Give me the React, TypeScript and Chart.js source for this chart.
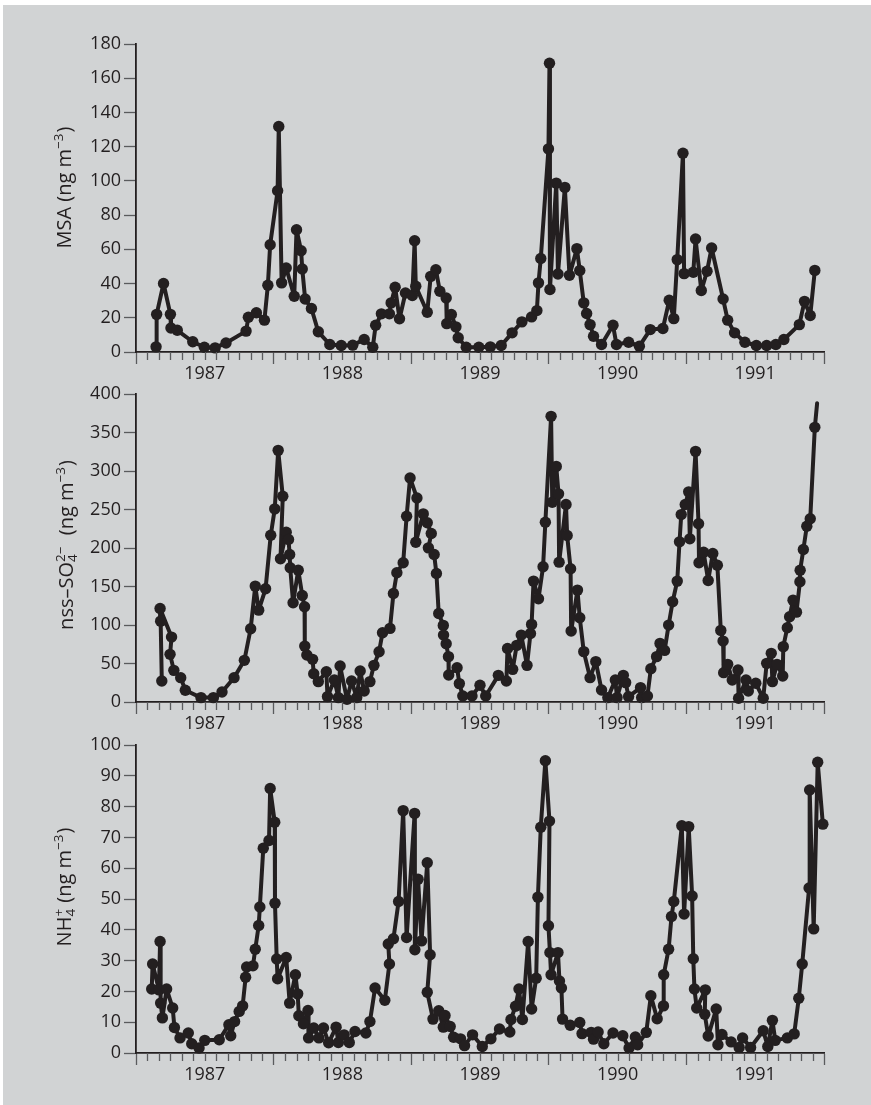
import React, { useEffect, useRef } from "react";
import { Chart, registerables } from "chart.js";

Chart.register(...registerables);

// ---------- data ----------
const yearLabels = ["1987", "1988", "1989", "1990", "1991"];

// months counted from 1 Jan 1987
const msaMonths = [1.75,1.8,2.4,3.0,3.05,3.6,4.95,5.96,6.9,7.85,9.6,9.8,10.5,11.2,11.5,11.7,12.35,12.45,12.7,13.1,13.8,14.0,14.4,14.5,14.75,15.3,15.9,16.9,17.9,18.9,19.9,20.65,20.9,21.4,22.1,22.25,22.6,22.98,23.5,24.1,24.3,24.4,25.4,25.7,26.15,26.5,27.05,27.1,27.5,27.9,28.1,28.8,29.9,30.9,31.85,32.8,33.65,34.5,34.96,35.1,35.3,35.97,36.06,36.1,36.65,36.8,37.4,37.8,38.45,38.7,39.05,39.3,39.6,39.9,40.6,41.6,41.9,42.96,43.9,44.85,45.95,46.5,46.9,47.2,47.7,47.8,48.6,48.8,49.3,49.8,50.2,51.2,51.6,52.2,53.1,54.1,55.0,55.8,56.5,57.85,58.3,58.8,59.2];
const msaValues = [3,22,40,22,14,12.7,6,2.8,2.4,5.3,12.2,20.3,22.9,18.6,39,62.7,94.2,131.8,40.4,49.1,32.6,71.5,59.2,48.5,31,25.4,11.8,4.4,3.8,4,7.3,2.8,15.6,22.3,22.3,28.7,37.8,19.4,34.5,33,65,38.4,23.2,44.2,48.1,35.5,31.6,16.6,21.9,14.7,8.3,2.8,2.8,3,3.8,11.2,17.6,20.5,24.2,40.4,54.6,118.7,168.8,36.5,98.7,45.6,96.2,44.8,60.4,47.6,28.7,22.5,16,9.2,4.4,15.6,4.4,5.7,3.4,13.1,13.7,30.2,19.5,54,116.2,45.8,46.6,66,35.9,47.2,60.8,31,18.6,11.2,5.7,3.8,3.8,4.4,7.3,16,29.6,21.3,47.7];

const so4Months = [2.25,2.15,2.1,3.1,2.97,3.3,3.9,4.3,5.67,6.75,7.5,8.55,9.45,10.0,10.4,10.7,11.3,11.75,12.1,12.4,12.8,12.6,13.1,13.3,13.4,13.45,13.7,14.15,14.5,14.7,14.72,14.9,15.4,15.5,15.9,16.6,16.7,17.3,17.65,17.8,18.4,18.8,19.25,19.55,19.9,20.4,20.75,21.2,21.5,22.15,22.45,22.75,23.3,23.6,23.9,24.5,24.4,25.05,25.4,25.75,25.5,26.0,26.2,26.4,26.8,26.82,27.05,27.25,27.27,28.0,28.2,28.5,29.3,30.0,30.5,31.6,32.3,32.4,32.85,33.2,33.6,34.1,34.4,34.5,34.67,35.1,35.5,35.7,36.2,36.3,36.65,36.85,36.9,37.5,37.6,37.9,37.95,38.5,38.7,39.05,39.6,40.1,40.6,41.15,41.8,41.95,42.5,42.7,42.96,44.0,44.1,44.6,44.9,45.4,45.7,46.1,46.45,46.8,47.2,47.4,47.55,47.9,48.2,48.3,48.8,49.06,49.1,49.5,49.9,50.3,50.7,51.0,51.2,51.25,51.6,52.0,52.5,52.55,53.2,53.4,54.05,54.7,55.0,55.4,55.5,55.9,56.4,56.45,56.8,57.0,57.3,57.6,57.9,57.92,58.2,58.5,58.8,59.2];
const so4Values = [27.2,105,121.5,84.3,61.9,41.1,31.6,15.2,5.7,5.7,13,31.6,54.1,95.2,150.5,119.3,147,216.6,250.8,326.8,267.2,186,220.5,211,191.6,174.3,128.9,171.2,138.4,123.7,72.6,61,55.4,36.8,26.5,39.4,7,28.5,5.7,46.7,3.5,27.2,5.7,40.2,14.3,26.5,47.6,65.3,90,95.6,141,167.8,180.8,241.2,291,265,207.5,244.3,232.7,218.8,200.2,191.6,166.9,115,99.5,86.9,75.7,58.9,35,44.6,23.9,7.8,7.8,21.7,7.8,34.6,27.2,69.6,42.4,73.5,86.9,47.6,89,100.8,157,134.1,175.6,233.5,371,259.4,306,270.3,181.6,256.4,216.2,173,92.1,145.3,109.5,65.4,31.6,52.4,15.6,5.7,28.5,5.7,34.6,25.2,7,18.7,5.7,7.8,43.3,58.9,76.1,67,99.9,130.2,157,208,243.4,256.4,272.9,211.9,325.5,231.4,180.8,194.5,157.8,192.9,177.7,93,79.1,38.1,48.9,28.5,41.5,4.8,28.5,14.3,24.3,4.8,50.2,63.2,26.5,48.9,33.7,71.9,96.5,110.8,132.3,116.7,156.2,171.2,198,228.3,237.9,356.7];
// the line runs on past the last sample, without a marker
const so4TailMonths = [59.4];
const so4TailValues = [388];

const nh4Months = [1.37,1.45,2.0,2.1,2.15,2.3,2.67,3.2,3.35,3.84,4.56,4.86,5.5,6.0,7.26,8.1,8.26,8.6,9.0,9.3,9.56,9.65,10.2,10.4,10.7,10.8,11.1,11.6,11.7,12.1,12.12,12.27,12.35,13.1,13.4,13.9,14.1,14.2,14.6,15.0,15.05,15.5,15.95,16.35,16.8,17.45,17.65,18.15,18.6,19.1,20.05,20.4,20.85,21.7,22.1,22.0,22.45,22.9,23.3,23.6,24.3,24.32,24.6,24.9,25.4,25.65,25.4,25.9,26.4,26.8,26.95,27.4,27.7,28.3,28.65,29.35,30.2,30.95,31.7,32.6,32.7,33.1,33.4,33.7,34.2,34.5,34.9,35.05,35.3,35.7,36.06,35.97,36.1,36.2,36.8,36.93,37.1,37.2,37.87,38.7,38.9,39.7,39.9,40.3,40.8,41.6,42.45,43.0,43.55,43.75,44.5,44.9,45.45,46.0,46.02,46.45,46.7,46.9,47.6,47.8,48.2,48.5,48.6,48.7,48.9,49.65,49.6,49.9,50.6,50.75,51.1,51.9,52.6,52.9,53.6,54.7,55.1,55.5,55.75,56.8,57.4,57.8,58.1,58.7,58.75,59.1,59.45,59.9];
const nh4Values = [20.8,28.9,20.5,36.2,16.2,11.4,20.8,14.6,8.3,4.9,6.5,3,1.6,4.1,4.3,9.2,5.6,10.2,13.5,15.3,24.6,27.9,28.3,33.7,41.4,47.4,66.5,69,85.9,74.9,48.6,30.5,24.1,31,16.2,25.4,19.2,12.1,9.5,13.8,4.9,8.1,4.9,8.1,3.3,8.4,3.4,5.9,3.4,7,6.5,10.2,21.1,17.1,28.9,35.4,37.1,49.2,78.7,37.5,77.8,33.5,56.4,36.4,61.8,31.9,19.7,11,13.7,8.4,12.2,8.6,5.1,4.6,2.4,5.9,2.1,4.6,7.8,6.8,10.9,15.2,20.8,10.9,36.2,14.3,24.3,50.6,73.3,94.9,75.3,41.3,32.6,25.4,32.6,23.4,21.1,11,9,9.9,6.3,6.7,4.5,6.8,3,6.5,5.6,1.6,5.2,2.7,6.7,18.6,11.1,15.3,25.4,33.7,44.3,49.2,73.8,45.1,73.5,51,30.6,20.8,14.6,20.5,12.6,5.5,14.3,2.7,6,3.6,1.8,4.9,1.8,7.2,2.1,10.6,4.1,4.9,6.2,17.8,28.9,53.6,85.4,40.3,94.4,74.3];

const msaAxis = [0, 180, 20];
const so4Axis = [0, 400, 50];
const nh4Axis = [0, 100, 10];

type Part = { text?: string; sup?: string; sub?: string };
const msaTitle: Part[] = [{ text: "MSA (ng m" }, { sup: "\u22123" }, { text: ")" }];
const so4Title: Part[] = [{ text: "nss\u2013SO" }, { sup: "2\u2212", sub: "4" }, { text: "  (ng m" }, { sup: "\u22123" }, { text: ")" }];
const nh4Title: Part[] = [{ text: "NH" }, { sup: "+", sub: "4" }, { text: " (ng m" }, { sup: "\u22123" }, { text: ")" }];

// ---------- style ----------
const INK = "#231f20";
const TICK_GREY = "#5a5b5d";
const BG = "#d1d3d4";
const FONT = "'Open Sans', 'Noto Sans', sans-serif";
const W = 871;
const CANVAS_H = 360;
const PAD_TOP = 14;
const X_AXIS_H = 38;
const Y_AXIS_W = 136;
const PAD_RIGHT = 47;
const TOTAL_MONTHS = 60;

function drawVerticalTitle(ctx: CanvasRenderingContext2D, parts: Part[], baseX: number, centerY: number) {
  const big = `20px ${FONT}`;
  const small = `13.5px ${FONT}`;
  const widths = parts.map((p) => {
    if (p.text !== undefined) {
      ctx.font = big;
      return ctx.measureText(p.text).width;
    }
    ctx.font = small;
    const a = p.sup ? ctx.measureText(p.sup).width : 0;
    const b = p.sub ? ctx.measureText(p.sub).width : 0;
    return Math.max(a, b) + 1;
  });
  const total = widths.reduce((s, w) => s + w, 0);
  ctx.save();
  ctx.translate(baseX, centerY);
  ctx.rotate(-Math.PI / 2);
  ctx.fillStyle = INK;
  ctx.textAlign = "left";
  ctx.textBaseline = "alphabetic";
  let x = -total / 2;
  parts.forEach((p, i) => {
    if (p.text !== undefined) {
      ctx.font = big;
      ctx.fillText(p.text, x, 0);
    } else {
      ctx.font = small;
      if (p.sup) ctx.fillText(p.sup, x, -8);
      if (p.sub) ctx.fillText(p.sub, x, 4);
    }
    x += widths[i];
  });
  ctx.restore();
}

type PanelProps = {
  months: number[];
  values: number[];
  tailMonths?: number[];
  tailValues?: number[];
  axis: number[];
  title: Part[];
  top: number;
  titleX: number;
  titleY: number;
};

function Panel({ months, values, tailMonths = [], tailValues = [], axis, title, top, titleX, titleY }: PanelProps) {
  const ref = useRef<HTMLCanvasElement>(null);
  useEffect(() => {
    const canvas = ref.current;
    if (!canvas) return;
    const markerCount = months.length;
    const pts = months.map((m, i) => ({ x: m, y: values[i] }));
    tailMonths.forEach((m, i) => pts.push({ x: m, y: tailValues[i] }));

    const extras = {
      id: "panelExtras",
      afterDraw(chart: any) {
        const ctx = chart.ctx as CanvasRenderingContext2D;
        const xs = chart.scales.x;
        const bottom = chart.chartArea.bottom;
        ctx.save();
        ctx.strokeStyle = TICK_GREY;
        ctx.lineWidth = 1.3;
        for (let m = 0; m <= TOTAL_MONTHS; m++) {
          if (m % 12 === 0) continue;
          const px = Math.round(xs.getPixelForValue(m)) + 0.5;
          ctx.beginPath();
          ctx.moveTo(px, bottom);
          ctx.lineTo(px, bottom + 8);
          ctx.stroke();
        }
        ctx.restore();
        drawVerticalTitle(ctx, title, titleX, titleY);
      },
    };

    const chart = new Chart(canvas, {
      type: "line",
      data: {
        datasets: [
          {
            data: pts,
            borderColor: INK,
            backgroundColor: INK,
            borderWidth: 4,
            borderJoinStyle: "round",
            borderCapStyle: "round",
            pointRadius: (c: any) => (c.dataIndex >= markerCount ? 0 : 5.7),
            pointBorderWidth: 0,
            pointBackgroundColor: INK,
            tension: 0,
            clip: false as any,
          },
        ],
      },
      options: {
        animation: false,
        responsive: false,
        maintainAspectRatio: false,
        devicePixelRatio: 1,
        events: [],
        layout: { padding: { top: PAD_TOP, right: PAD_RIGHT, left: 0, bottom: 0 } },
        plugins: { legend: { display: false }, tooltip: { enabled: false }, title: { display: false } },
        scales: {
          x: {
            type: "linear",
            min: 0,
            max: TOTAL_MONTHS,
            afterFit: (s: any) => {
              s.height = X_AXIS_H;
            },
            ticks: {
              stepSize: 1,
              maxTicksLimit: 200,
              autoSkip: false,
              maxRotation: 0,
              minRotation: 0,
              padding: -1,
              color: INK,
              font: { family: FONT, size: 18 },
              callback: (v: any) => {
                const n = Number(v);
                return n % 12 === 6 ? yearLabels[(n - 6) / 12] : "";
              },
            },
            grid: {
              drawOnChartArea: false,
              tickLength: 12,
              tickWidth: 1.3,
              tickColor: (c: any) => (c.tick && c.tick.value % 12 === 0 ? TICK_GREY : "rgba(0,0,0,0)"),
            },
            border: { display: true, color: INK, width: 1.8 },
          },
          y: {
            type: "linear",
            min: axis[0],
            max: axis[1],
            afterFit: (s: any) => {
              s.width = Y_AXIS_W;
            },
            ticks: {
              stepSize: axis[2],
              padding: 3,
              color: INK,
              font: { family: FONT, size: 18 },
            },
            grid: { drawOnChartArea: false, tickLength: 12, tickWidth: 1.3, tickColor: TICK_GREY },
            border: { display: true, color: INK, width: 1.8 },
          },
        },
      },
      plugins: [extras],
    } as any);
    return () => chart.destroy();
  }, []);
  return (
    <canvas
      ref={ref}
      width={W}
      height={CANVAS_H}
      style={{ position: "absolute", left: 0, top, width: W, height: CANVAS_H, display: "block" }}
    />
  );
}

export default function App() {
  return (
    <div style={{ position: "absolute", left: 0, top: 0, width: W, height: 1105, background: "#ffffff", overflow: "hidden" }}>
      <div style={{ position: "absolute", left: 3, top: 5, right: 0, bottom: 0, background: BG }} />
      <Panel months={msaMonths} values={msaValues} axis={msaAxis} title={msaTitle} top={30} titleX={70.5} titleY={157.5} />
      <Panel
        months={so4Months}
        values={so4Values}
        tailMonths={so4TailMonths}
        tailValues={so4TailValues}
        axis={so4Axis}
        title={so4Title}
        top={380}
        titleX={73}
        titleY={165}
      />
      <Panel months={nh4Months} values={nh4Values} axis={nh4Axis} title={nh4Title} top={731} titleX={70.5} titleY={156} />
    </div>
  );
}
